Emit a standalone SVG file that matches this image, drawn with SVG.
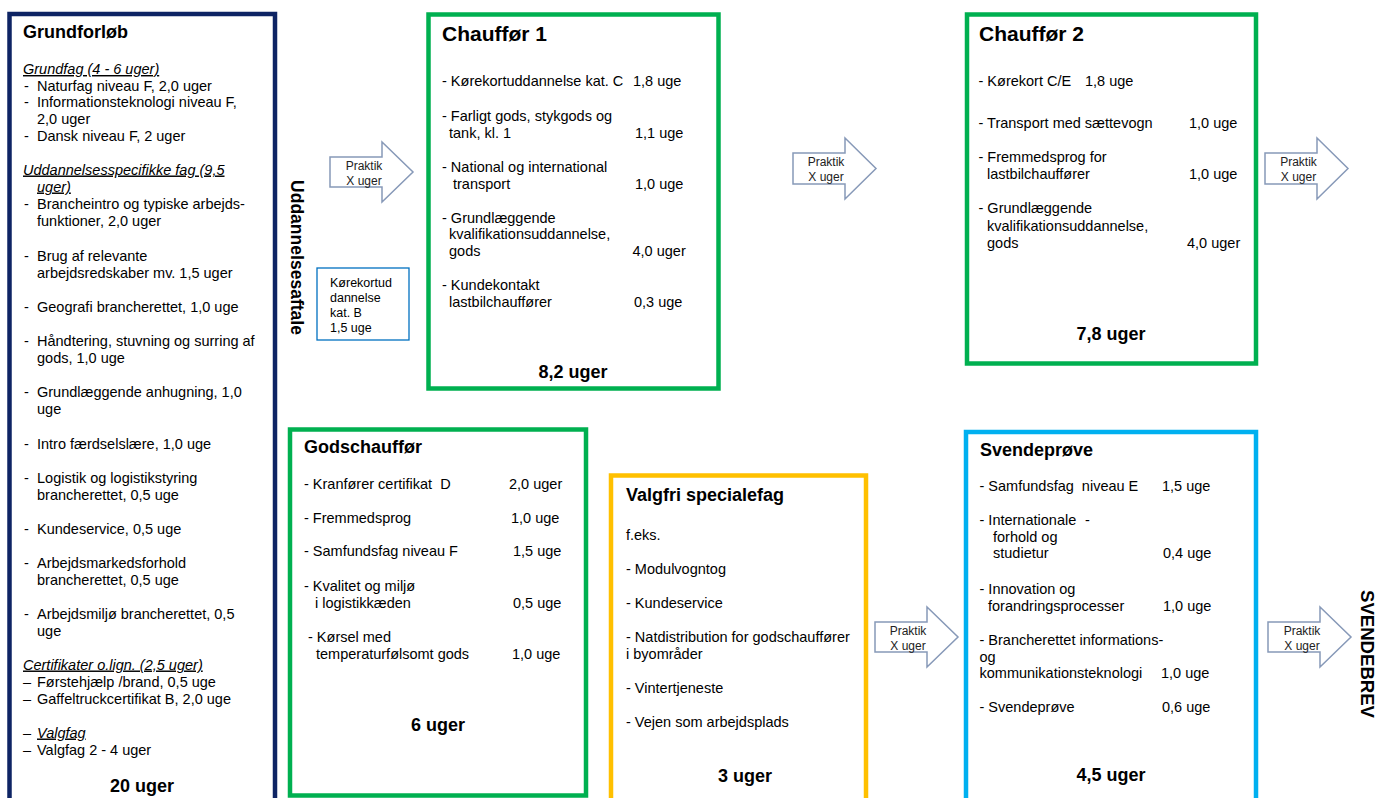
<svg xmlns="http://www.w3.org/2000/svg" width="1378" height="798" viewBox="0 0 1378 798">
<style>
text{font-family:"Liberation Sans",Arial,sans-serif;fill:#000;white-space:pre}
.t{font-size:14.5px}
.h{font-size:14.5px;font-style:italic;text-decoration:underline}
.ti{font-size:18px;font-weight:bold}
.tc{font-size:21px;font-weight:bold}
.tot{font-size:18px;font-weight:bold;text-anchor:middle}
.p{font-size:12px;text-anchor:middle;fill:#222}
.k{font-size:12.5px}
.v{font-size:18px;font-weight:bold;text-anchor:middle}
.box{fill:#fff;stroke-width:4.5}
.arr{fill:#fff;stroke:#8799b8;stroke-width:1.5;stroke-linejoin:miter}
</style>
<rect width="1378" height="798" fill="#fff"/>

<g id="grundforloeb">
<rect class="box" x="9.5" y="14" width="265.5" height="800" stroke="#0e2464" stroke-width="4.5"/>
<text class="ti" x="23" y="38">Grundforløb</text>
<text class="h" x="23" y="74">Grundfag (4 - 6 uger)</text>
<text class="t" x="24" y="90.5">-</text><text class="t" x="37" y="90.5">Naturfag niveau F, 2,0 uger</text>
<text class="t" x="24" y="107">-</text><text class="t" x="37" y="107">Informationsteknologi niveau F,</text>
<text class="t" x="37" y="124">2,0 uger</text>
<text class="t" x="24" y="140.5">-</text><text class="t" x="37" y="140.5">Dansk niveau F, 2 uger</text>
<text class="h" x="23" y="174.5">Uddannelsesspecifikke fag (9,5</text>
<text class="h" x="37" y="191.5">uger)</text>
<text class="t" x="24" y="208.5">-</text><text class="t" x="37" y="208.5">Brancheintro og typiske arbejds-</text>
<text class="t" x="37" y="225.5">funktioner, 2,0 uger</text>
<text class="t" x="24" y="260.5">-</text><text class="t" x="37" y="260.5">Brug af relevante</text>
<text class="t" x="37" y="277.5">arbejdsredskaber mv. 1,5 uger</text>
<text class="t" x="24" y="311.5">-</text><text class="t" x="37" y="311.5">Geografi brancherettet, 1,0 uge</text>
<text class="t" x="24" y="345.5">-</text><text class="t" x="37" y="345.5">Håndtering, stuvning og surring af</text>
<text class="t" x="37" y="362.5">gods, 1,0 uge</text>
<text class="t" x="24" y="396.5">-</text><text class="t" x="37" y="396.5">Grundlæggende anhugning, 1,0</text>
<text class="t" x="37" y="413.5">uge</text>
<text class="t" x="24" y="448.5">-</text><text class="t" x="37" y="448.5">Intro færdselslære, 1,0 uge</text>
<text class="t" x="24" y="482.5">-</text><text class="t" x="37" y="482.5">Logistik og logistikstyring</text>
<text class="t" x="37" y="499.5">brancherettet, 0,5 uge</text>
<text class="t" x="24" y="533.5">-</text><text class="t" x="37" y="533.5">Kundeservice, 0,5 uge</text>
<text class="t" x="24" y="567.5">-</text><text class="t" x="37" y="567.5">Arbejdsmarkedsforhold</text>
<text class="t" x="37" y="584.5">brancherettet, 0,5 uge</text>
<text class="t" x="24" y="618.5">-</text><text class="t" x="37" y="618.5">Arbejdsmiljø brancherettet, 0,5</text>
<text class="t" x="37" y="635.5">uge</text>
<text class="h" x="23" y="669.5">Certifikater o.lign. (2,5 uger)</text>
<text class="t" x="23" y="686.5">–</text><text class="t" x="37" y="686.5">Førstehjælp /brand, 0,5 uge</text>
<text class="t" x="23" y="703.5">–</text><text class="t" x="37" y="703.5">Gaffeltruckcertifikat B, 2,0 uge</text>
<text class="t" x="23" y="737.5">–</text><text class="h" x="37" y="737.5">Valgfag</text>
<text class="t" x="23" y="754.5">–</text><text class="t" x="37" y="754.5">Valgfag 2 - 4 uger</text>
<text class="tot" x="142" y="791.5">20 uger</text>
</g>

<g id="uddannelsesaftale">
<text class="v" transform="translate(291,257.5) rotate(90)" font-size="18" textLength="155" lengthAdjust="spacingAndGlyphs">Uddannelsesaftale</text>
</g>

<g id="koerekort-b">
<rect x="317" y="268" width="92" height="72" fill="#fff" stroke="#0070c0" stroke-width="1.3"/>
<text class="k" x="330" y="286.7">Kørekortud</text>
<text class="k" x="330" y="301.7">dannelse</text>
<text class="k" x="330" y="316.7">kat. B</text>
<text class="k" x="330" y="331.7">1,5 uge</text>
</g>

<g id="chauffoer1">
<rect class="box" x="428.5" y="14.5" width="290" height="374" stroke="#00b050"/>
<text class="tc" x="442" y="40.5">Chauffør 1</text>
<text class="t" x="442" y="85.5">- Kørekortuddannelse kat. C</text><text class="t" x="633" y="85.5">1,8 uge</text>
<text class="t" x="442" y="120.5">- Farligt gods, stykgods og</text>
<text class="t" x="449" y="137.5">tank, kl. 1</text><text class="t" x="635" y="137.5">1,1 uge</text>
<text class="t" x="442" y="171.5">- National og international</text>
<text class="t" x="453" y="188.5">transport</text><text class="t" x="635" y="188.5">1,0 uge</text>
<text class="t" x="442" y="222.5">- Grundlæggende</text>
<text class="t" x="449" y="239">kvalifikationsuddannelse,</text>
<text class="t" x="449" y="255.5">gods</text><text class="t" x="632.5" y="255.5">4,0 uger</text>
<text class="t" x="442" y="289.5">- Kundekontakt</text>
<text class="t" x="449" y="307">lastbilchauffører</text><text class="t" x="634" y="307">0,3 uge</text>
<text class="tot" x="573" y="378">8,2 uger</text>
</g>

<g id="chauffoer2">
<rect class="box" x="967" y="14.5" width="289" height="349" stroke="#00b050"/>
<text class="tc" x="979" y="40.5">Chauffør 2</text>
<text class="t" x="978.5" y="85.5">- Kørekort C/E</text><text class="t" x="1085" y="85.5">1,8 uge</text>
<text class="t" x="978.5" y="128">- Transport med sættevogn</text><text class="t" x="1189" y="128">1,0 uge</text>
<text class="t" x="978.5" y="162">- Fremmedsprog for</text>
<text class="t" x="987" y="178.5">lastbilchauffører</text><text class="t" x="1189" y="178.5">1,0 uge</text>
<text class="t" x="978.5" y="213">- Grundlæggende</text>
<text class="t" x="987" y="230.5">kvalifikationsuddannelse,</text>
<text class="t" x="987" y="247.5">gods</text><text class="t" x="1187" y="247.5">4,0 uger</text>
<text class="tot" x="1111" y="340">7,8 uger</text>
</g>

<g id="godschauffoer">
<rect class="box" x="290" y="429.5" width="296" height="366" stroke="#00b050"/>
<text class="ti" x="304" y="452.5">Godschauffør</text>
<text class="t" x="304" y="488.5" xml:space="preserve">- Kranfører certifikat  D</text><text class="t" x="509" y="488.5">2,0 uger</text>
<text class="t" x="304" y="522.5">- Fremmedsprog</text><text class="t" x="511" y="522.5">1,0 uge</text>
<text class="t" x="304" y="556">- Samfundsfag niveau F</text><text class="t" x="513" y="556">1,5 uge</text>
<text class="t" x="304" y="590.5">- Kvalitet og miljø</text>
<text class="t" x="315" y="607.5">i logistikkæden</text><text class="t" x="513" y="607.5">0,5 uge</text>
<text class="t" x="308" y="641.5">- Kørsel med</text>
<text class="t" x="316" y="658.5">temperaturfølsomt gods</text><text class="t" x="512" y="658.5">1,0 uge</text>
<text class="tot" x="438" y="731" font-size="19">6 uger</text>
</g>

<g id="valgfri">
<rect class="box" x="611" y="475.5" width="255" height="340" stroke="#ffc000"/>
<text class="ti" x="626" y="500.5">Valgfri specialefag</text>
<text class="t" x="626" y="540">f.eks.</text>
<text class="t" x="626" y="573.5">- Modulvogntog</text>
<text class="t" x="626" y="607.5">- Kundeservice</text>
<text class="t" x="626" y="642">- Natdistribution for godschauffører</text>
<text class="t" x="626" y="658.5">i byområder</text>
<text class="t" x="626" y="693">- Vintertjeneste</text>
<text class="t" x="626" y="726.5">- Vejen som arbejdsplads</text>
<text class="tot" x="745" y="782">3 uger</text>
</g>

<g id="svendeproeve">
<rect class="box" x="966" y="432" width="290" height="390" stroke="#00b0f0"/>
<text class="ti" x="980" y="455.5">Svendeprøve</text>
<text class="t" x="979.5" y="491" xml:space="preserve">- Samfundsfag  niveau E</text><text class="t" x="1162" y="491">1,5 uge</text>
<text class="t" x="979.5" y="525">- Internationale</text><text class="t" x="1085" y="525">-</text>
<text class="t" x="993" y="541.5">forhold og</text>
<text class="t" x="993" y="558">studietur</text><text class="t" x="1163" y="558">0,4 uge</text>
<text class="t" x="979.5" y="594">- Innovation og</text>
<text class="t" x="988" y="610.5">forandringsprocesser</text><text class="t" x="1163" y="610.5">1,0 uge</text>
<text class="t" x="979.5" y="645">- Brancherettet informations-</text>
<text class="t" x="979.5" y="661.5">og</text>
<text class="t" x="979.5" y="678">kommunikationsteknologi</text><text class="t" x="1161" y="678">1,0 uge</text>
<text class="t" x="979.5" y="712">- Svendeprøve</text><text class="t" x="1162" y="712">0,6 uge</text>
<text class="tot" x="1111" y="780.5">4,5 uger</text>
</g>

<g id="svendebrev">
<text class="v" transform="translate(1361,654) rotate(90)" textLength="128" lengthAdjust="spacingAndGlyphs">SVENDEBREV</text>
</g>

<g id="connectors">
<g id="praktik1">
<polygon class="arr" points="330,157 382,157 382,142 413,172 382,202 382,187 330,187"/>
<text class="p" x="364" y="170">Praktik</text><text class="p" x="364" y="185">X uger</text>
</g>
<g id="praktik2">
<polygon class="arr" points="793,153 845,153 845,138 876,168.5 845,199 845,184 793,184"/>
<text class="p" x="826" y="166">Praktik</text><text class="p" x="826" y="181">X uger</text>
</g>
<g id="praktik3">
<polygon class="arr" points="1265,153 1317,153 1317,138 1348,168.5 1317,199 1317,184 1265,184"/>
<text class="p" x="1298.5" y="166">Praktik</text><text class="p" x="1298.5" y="181">X uger</text>
</g>
<g id="praktik4">
<polygon class="arr" points="875,622 927,622 927,607 958,637 927,667 927,652 875,652"/>
<text class="p" x="908" y="635">Praktik</text><text class="p" x="908" y="650">X uger</text>
</g>
<g id="praktik5">
<polygon class="arr" points="1268,622 1320,622 1320,607 1351,637 1320,667 1320,652 1268,652"/>
<text class="p" x="1302" y="635">Praktik</text><text class="p" x="1302" y="650">X uger</text>
</g>
</g>
</svg>
